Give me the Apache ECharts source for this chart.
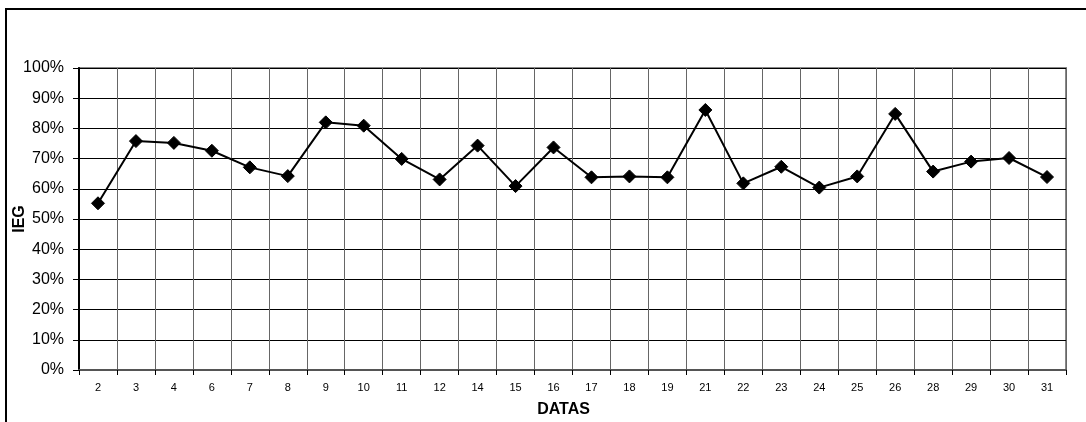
<!DOCTYPE html>
<html>
<head>
<meta charset="utf-8">
<script src="https://cdn.jsdelivr.net/npm/echarts@6/dist/echarts.min.js"></script>
<style>
html,body{margin:0;padding:0;background:#fff;}
#chart{width:1086px;height:422px;}
</style>
</head>
<body>
<div id="chart"></div>
<script>
const categories = ['2','3','4','6','7','8','9','10','11','12','14','15','16','17','18','19','21','22','23','24','25','26','28','29','30','31'];
const iegValues = [55.2,75.8,75.2,72.6,67.1,64.2,82.0,80.9,69.9,63.1,74.3,60.9,73.7,63.8,64.1,63.8,86.1,61.8,67.3,60.4,64.1,84.8,65.7,69.0,70.2,63.9];
const yTicks = {min: 0, max: 100, interval: 10};

const chart = echarts.init(document.getElementById('chart'), null, {renderer: 'canvas'});
chart.setOption({
  animation: false,
  backgroundColor: '#fff',
  graphic: [{
    type: 'rect',
    shape: {x: 6, y: 9, width: 1200, height: 600},
    style: {fill: 'none', stroke: '#000', lineWidth: 2},
    silent: true
  }],
  grid: {left: 79, right: 20, top: 68, bottom: 52, containLabel: false, outerBoundsMode: 'none', show: true, borderColor: '#888', borderWidth: 2, backgroundColor: 'transparent'},
  xAxis: {
    type: 'category',
    data: categories,
    boundaryGap: true,
    name: 'DATAS',
    nameLocation: 'middle',
    nameGap: 32,
    nameMoveOverlap: false,
    nameTextStyle: {fontFamily: 'Liberation Sans, Arial, sans-serif', fontSize: 16, fontWeight: 'bold', color: '#000', padding: [0, 18, 0, 0]},
    axisLine: {show: true, lineStyle: {color: '#555', width: 2}},
    axisTick: {show: true, length: 5, lineStyle: {color: '#000', width: 1}},
    axisLabel: {fontFamily: 'Liberation Sans, Arial, sans-serif', fontSize: 11, color: '#000', margin: 12},
    splitLine: {show: true, lineStyle: {color: '#666', width: 1}}
  },
  yAxis: {
    type: 'value',
    min: yTicks.min, max: yTicks.max, interval: yTicks.interval,
    name: 'IEG',
    nameLocation: 'middle',
    nameGap: 51,
    nameMoveOverlap: false,
    nameTextStyle: {fontFamily: 'Liberation Sans, Arial, sans-serif', fontSize: 16, fontWeight: 'bold', color: '#000'},
    axisLine: {show: true, lineStyle: {color: '#000', width: 2}},
    axisTick: {show: true, length: 6, lineStyle: {color: '#000', width: 1}},
    axisLabel: {fontFamily: 'Liberation Sans, Arial, sans-serif', fontSize: 16, color: '#000', margin: 15, formatter: v => v + '%'},
    splitLine: {show: true, lineStyle: {color: '#000', width: 1}}
  },
  series: [{
    type: 'line',
    data: iegValues,
    symbol: 'diamond',
    symbolSize: 13,
    showAllSymbol: true,
    lineStyle: {color: '#000', width: 2},
    itemStyle: {color: '#000', borderColor: '#000'}
  }]
});
</script>
</body>
</html>
